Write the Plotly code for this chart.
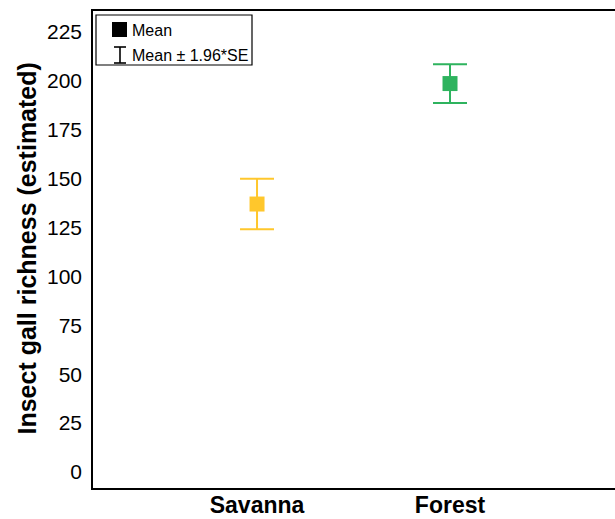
import plotly.graph_objects as go

categories = ["Savanna", "Forest"]
means = [137.0, 198.6]
errors = [12.9, 9.9]
colors = ["#FFC72C", "#2EB35E"]
y_ticks = [0, 25, 50, 75, 100, 125, 150, 175, 200, 225]
y_title = "Insect gall richness (estimated)"

W, H = 615, 519
L, R, T, B = 93, 615, 11, 488  # plot area in pixels

fig = go.Figure()
for i, cat in enumerate(categories):
    fig.add_trace(go.Scatter(
        x=[i], y=[means[i]], mode="markers",
        marker=dict(symbol="square", size=15, color=colors[i]),
        error_y=dict(type="data", array=[errors[i]], visible=True,
                     color=colors[i], thickness=2, width=17),
        showlegend=False, hoverinfo="skip"))

def px(x):
    return (x - L) / (R - L)

def py(y):
    return (B - y) / (B - T)

shapes = [
    dict(type="rect", xref="paper", yref="paper", x0=px(96), x1=px(252), y0=py(65), y1=py(15),
         line=dict(color="black", width=1.2), fillcolor="white", layer="above"),
    dict(type="rect", xref="paper", yref="paper", x0=px(112), x1=px(127), y0=py(37), y1=py(22),
         line=dict(width=0), fillcolor="black", layer="above"),
    dict(type="line", xref="paper", yref="paper", x0=px(120), x1=px(120), y0=py(63), y1=py(47),
         line=dict(color="black", width=1.6), layer="above"),
    dict(type="line", xref="paper", yref="paper", x0=px(114), x1=px(126), y0=py(47), y1=py(47),
         line=dict(color="black", width=1.6), layer="above"),
    dict(type="line", xref="paper", yref="paper", x0=px(114), x1=px(126), y0=py(63), y1=py(63),
         line=dict(color="black", width=1.6), layer="above"),
]
annotations = [
    dict(text="Mean", xref="paper", yref="paper", x=px(129.5), y=py(30), xanchor="left",
         yanchor="middle", showarrow=False, font=dict(size=16, color="black")),
    dict(text="Mean ± 1.96*SE", xref="paper", yref="paper", x=px(129.5), y=py(55), xanchor="left",
         yanchor="middle", showarrow=False, font=dict(size=16, color="black")),
    dict(text="<b>" + y_title + "</b>", xref="paper", yref="paper", x=px(27), y=py(248.5),
         xanchor="center", yanchor="middle", textangle=-90, showarrow=False,
         font=dict(size=25, color="black")),
]

fig.update_layout(
    width=W, height=H,
    margin=dict(l=L, r=W - R, t=T, b=H - B, pad=0, autoexpand=False),
    plot_bgcolor="white", paper_bgcolor="white",
    font=dict(family="Arial, Liberation Sans, sans-serif", color="black"),
    shapes=shapes, annotations=annotations,
    xaxis=dict(range=[-0.85, 1.855], tickvals=[0, 1], ticktext=categories,
               tickfont=dict(size=23, family="Arial, Liberation Sans", weight="bold"),
               showgrid=False, zeroline=False, showline=True, mirror=True, automargin=False,
               linecolor="black", linewidth=1.5, ticks="", ticklabelstandoff=-4),
    yaxis=dict(range=[-8.2, 235.7], tickvals=y_ticks, ticktext=[str(v) for v in y_ticks],
               tickfont=dict(size=21), showgrid=False, zeroline=False, showline=True,
               automargin=False,
               mirror=False, linecolor="black", linewidth=1.5, ticks="", ticklabelstandoff=5),
)

fig.write_html("out.html", config={"displayModeBar": False},
               post_script="document.body.style.margin='0';document.body.style.overflow='hidden';")
